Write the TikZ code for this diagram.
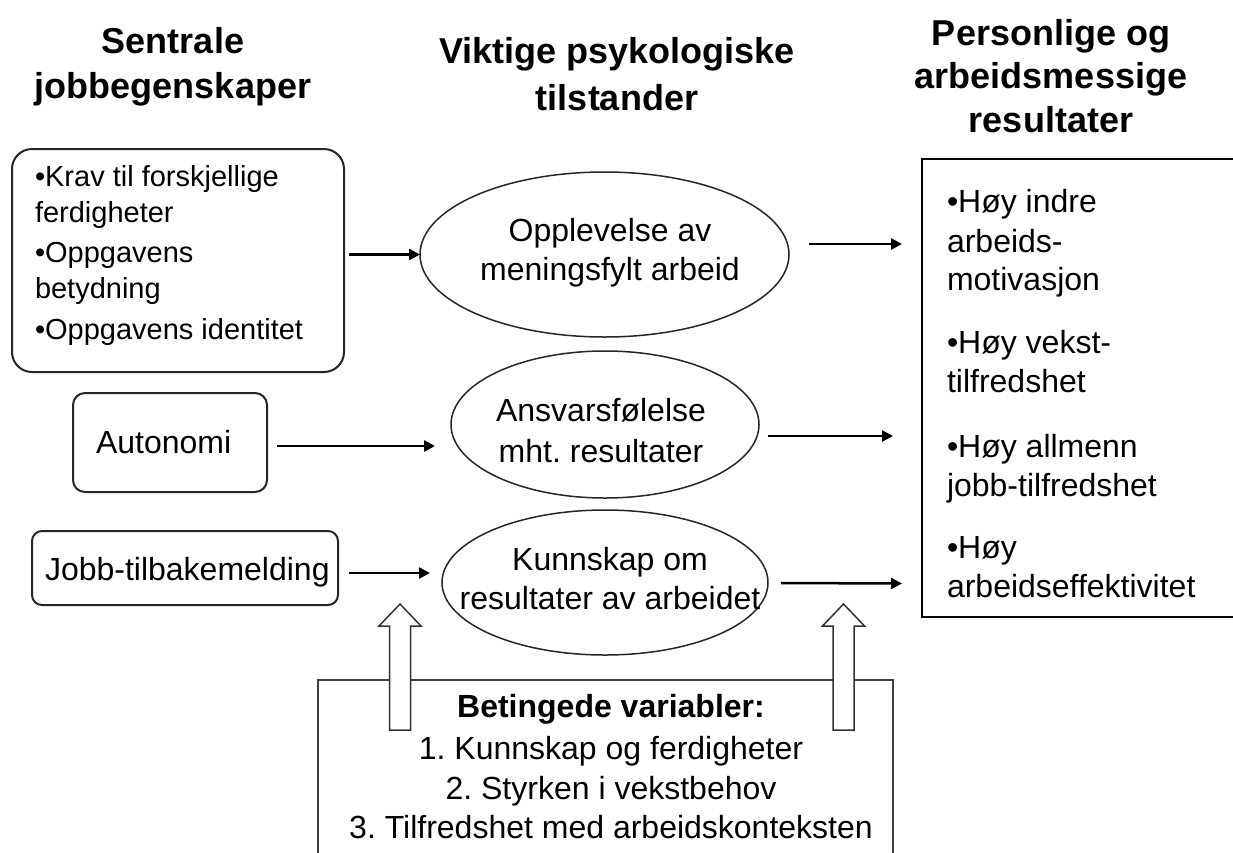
\documentclass[tikz,border=0pt]{standalone}
\usepackage{fontspec}
\setmainfont{Liberation Sans}
\usetikzlibrary{arrows.meta,shapes.geometric,calc}
\begin{document}
\frenchspacing
\begin{tikzpicture}[x=1pt,y=-1pt, every node/.style={outer sep=0pt},
  body/.style={font=\fontsize{32}{38}\selectfont, inner sep=0pt, anchor=base},
  bodyl/.style={font=\fontsize{32}{38}\selectfont, inner sep=0pt, anchor=base west},
  small/.style={font=\fontsize{29}{34}\selectfont, inner sep=0pt, anchor=base west},
  head/.style={font=\fontsize{36}{44}\selectfont\bfseries, inner sep=0pt, anchor=base},
  rbox/.style={draw=black!85, line width=2pt, inner sep=0pt},
  ell/.style={draw=black!85, line width=1.5pt, ellipse, inner sep=0pt},
  arr/.style={line width=2.5pt, -{Triangle[length=11pt,width=11pt]}},
  blk/.style={draw=black!80, line width=1.5pt, fill=white},
]
\clip (0,0) rectangle (1233,852);
\fill[white] (0,0) rectangle (1233,852);

% headers
\node[head] (h1a) at (173,53) {Sentrale};
\node[head] (h1b) at (173,98) {jobbegenskaper};
\node[head] (h2a) at (617,63) {Viktige psykologiske};
\node[head] (h2b) at (617,110) {tilstander};
\node[head] (h3a) at (1051,45) {Personlige og};
\node[head] (h3b) at (1051,88) {arbeidsmessige};
\node[head] (h3c) at (1051,132) {resultater};

% left boxes
\node[rbox, rounded corners=20pt, minimum width=332pt, minimum height=223pt] (b1) at (178,260.5) {};
\node[rbox, rounded corners=12pt, minimum width=194pt, minimum height=99pt] (b2) at (170,442.5) {};
\node[rbox, rounded corners=10pt, minimum width=306pt, minimum height=74pt] (b3) at (185,568) {};

\node[small] (t11) at (35,186) {•Krav til forskjellige};
\node[small] (t12) at (35,222) {ferdigheter};
\node[small] (t13) at (35,262) {•Oppgavens};
\node[small] (t14) at (35,298) {betydning};
\node[small] (t15) at (35,339) {•Oppgavens identitet};
\node[bodyl] (t2) at (96,453) {Autonomi};
\node[bodyl] (t3) at (45,580) {Jobb-tilbakemelding};

% ellipses
\node[ell, minimum width=369pt, minimum height=165pt] (e1) at (604.5,254.5) {};
\node[ell, minimum width=308pt, minimum height=147pt] (e2) at (605,424.5) {};
\node[ell, minimum width=326pt, minimum height=145pt] (e3) at (605,582.5) {};

\node[body] (e1a) at (610,241) {Opplevelse av};
\node[body] (e1b) at (610,280) {meningsfylt arbeid};
\node[body] (e2a) at (601,421) {Ansvarsfølelse};
\node[body] (e2b) at (601,462) {mht. resultater};
\node[body] (e3a) at (610,570) {Kunnskap om};
\node[body] (e3b) at (610,609) {resultater av arbeidet};

% right box
\node[draw=black, line width=2pt, inner sep=0pt, minimum width=328pt, minimum height=458pt] (rb) at (1086,388) {};
\node[bodyl] (r1) at (947,212) {•Høy indre};
\node[bodyl] (r2) at (947,252) {arbeids-};
\node[bodyl] (r3) at (947,290) {motivasjon};
\node[bodyl] (r4) at (947,353) {•Høy vekst-};
\node[bodyl] (r5) at (947,392) {tilfredshet};
\node[bodyl] (r6) at (947,457) {•Høy allmenn};
\node[bodyl] (r7) at (947,496) {jobb-tilfredshet};
\node[bodyl] (r8) at (947,558) {•Høy};
\node[bodyl] (r9) at (947,597) {arbeidseffektivitet};

% arrows left -> ellipses
\draw[arr, shorten <=5pt] (b1.east |- e1.west) -- (e1.west);
\draw[arr] ([shift={(10,3.5)}]b2.east) -- ([shift={(-16,21.5)}]e2.west);
\draw[arr] ([shift={(11,5)}]b3.east) -- ([shift={(-12,-9.5)}]e3.west);
% arrows ellipses -> right box
\draw[arr] ([shift={(20,-10.5)}]e1.east) -- ([shift={(-20,85)}]rb.north west);
\draw[arr] ([shift={(9,11.5)}]e2.east) -- ([shift={(-29,277)}]rb.north west);
\draw[arr] ([shift={(13,0.5)}]e3.east) -- ([shift={(-20,424.5)}]rb.north west);

% bottom box
\node[draw=black!75, line width=1.5pt, inner sep=0pt, minimum width=575pt, minimum height=200pt] (bb) at (605.5,780) {};
\node[body, font=\fontsize{32}{38}\selectfont\bfseries] (bt) at (611,717) {Betingede variabler:};
\node[body] (bl1) at (611,759) {1. Kunnskap og ferdigheter};
\node[body] (bl2) at (611,799) {2. Styrken i vekstbehov};
\node[body] (bl3) at (611,838) {3. Tilfredshet med arbeidskonteksten};

% block arrows
\draw[blk] (389.5,730) -- (389.5,626) -- (379,626) -- (400,604) -- (421,626) -- (410.5,626) -- (410.5,730) -- cycle;
\draw[blk] (833,730) -- (833,626) -- (822.5,626) -- (843.5,604) -- (864.5,626) -- (854,626) -- (854,730) -- cycle;
\end{tikzpicture}
\end{document}
